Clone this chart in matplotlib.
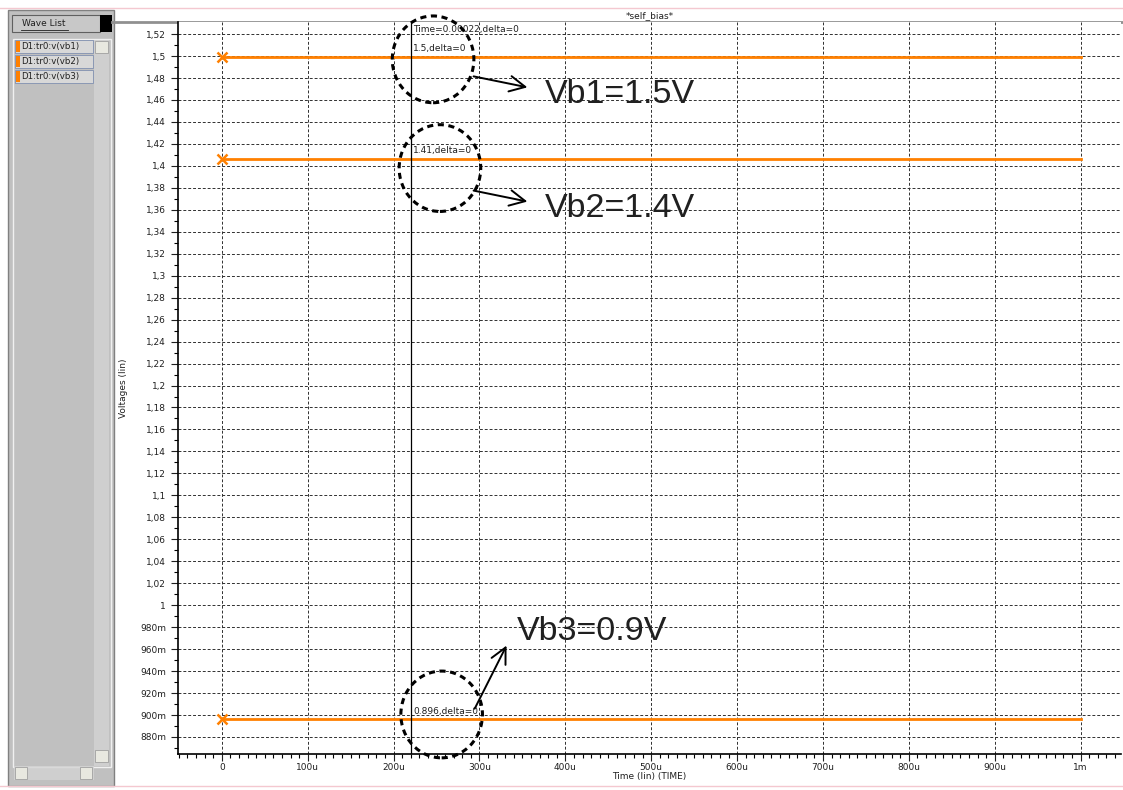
import matplotlib
matplotlib.use("Agg")
import matplotlib.pyplot as plt
from matplotlib.patches import Rectangle, Ellipse
import numpy as np

time_us = [0, 1000]
vb1 = [1.499, 1.499]
vb2 = [1.406, 1.406]
vb3 = [0.896, 0.896]
signals = ["D1:tr0:v(vb1)", "D1:tr0:v(vb2)", "D1:tr0:v(vb3)"]
cursor_us = 220
cursor_labels = ["1.5,delta=0", "1.41,delta=0", "0.896,delta=0"]
cursor_vals = [1.499, 1.406, 0.896]
notes = ["Vb1=1.5V", "Vb2=1.4V", "Vb3=0.9V"]

y_ticks = np.round(np.arange(0.88, 1.5201, 0.02), 2)
x_ticks = np.arange(0, 1001, 100)

def ylab(v):
    if v < 1:
        return "%dm" % round(v * 1000)
    s = ("%.2f" % v).rstrip("0").rstrip(".")
    return s.replace(".", ",")

def xlab(v):
    if v == 0:
        return "0"
    if v == 1000:
        return "1m"
    return "%du" % v

W, H = 1123, 790
orange = "#ff8000"
fig = plt.figure(figsize=(W / 100, H / 100), dpi=100)
fig.patch.set_facecolor("white")

# painel de fundo em coordenadas de pixel
bg = fig.add_axes([0, 0, 1, 1])
bg.set_xlim(0, W)
bg.set_ylim(H, 0)
bg.axis("off")
bg.plot([0, W], [8, 8], color="#f4c8d0", lw=1)
bg.plot([0, W], [786, 786], color="#f4c8d0", lw=1)
bg.plot([112, W], [22, 22], color="#909090", lw=2)
bg.add_patch(Rectangle((8, 10), 106, 776, facecolor="#c0c0c0", edgecolor="#808080", lw=1))
bg.add_patch(Rectangle((12, 15), 88, 17, facecolor="#c8c8c8", edgecolor="#606060", lw=0.8))
bg.add_patch(Rectangle((100, 15), 12, 17, facecolor="black"))
bg.text(44, 24, "Wave List", fontsize=6.5, ha="center", va="center", color="#202020")
bg.plot([21, 68], [29.5, 29.5], color="#202020", lw=0.6)
bg.add_patch(Rectangle((13, 39), 98, 728, facecolor="#c0c0c0", edgecolor="#f0f0f0", lw=1))
bg.add_patch(Rectangle((94, 40), 15, 726, facecolor="#d4d4d4", edgecolor="none", hatch="....", alpha=0.8))
bg.add_patch(Rectangle((95, 41), 13, 12, facecolor="#e8e8e0", edgecolor="#a0a0a0", lw=0.6))
bg.add_patch(Rectangle((95, 750), 13, 12, facecolor="#e8e8e0", edgecolor="#a0a0a0", lw=0.6))
bg.add_patch(Rectangle((14, 766), 80, 14, facecolor="#d4d4d4", edgecolor="none", hatch="....", alpha=0.8))
bg.add_patch(Rectangle((15, 767), 12, 12, facecolor="#e8e8e0", edgecolor="#a0a0a0", lw=0.6))
bg.add_patch(Rectangle((80, 767), 12, 12, facecolor="#e8e8e0", edgecolor="#a0a0a0", lw=0.6))
for i, name in enumerate(signals):
    y = 46 + 15 * i
    bg.add_patch(Rectangle((15, y - 6), 78, 13, facecolor="#d8d8d8", edgecolor="#8090b0", lw=0.6))
    bg.add_patch(Rectangle((16, y - 5), 4, 11, facecolor=orange, edgecolor="none"))
    bg.text(21, y + 0.5, name, fontsize=6.2, va="center", color="#202020")

# area do grafico
ax = fig.add_axes([178 / W, 1 - 754 / H, (1121 - 178) / W, (754 - 22) / H])
ax.set_xlim(-51, 1047)
ax.set_ylim(0.8645, 1.531)
for s in ["top", "right"]:
    ax.spines[s].set_visible(False)
ax.spines["left"].set_linewidth(1.2)
ax.spines["bottom"].set_linewidth(1.2)

ax.set_yticks(y_ticks)
ax.set_yticklabels([ylab(v) for v in y_ticks])
ax.set_yticks(np.round(np.arange(0.87, 1.53, 0.02), 2), minor=True)
ax.set_xticks(x_ticks)
ax.set_xticklabels([xlab(v) for v in x_ticks])
ax.set_xticks(np.arange(-50, 1041, 10), minor=True)
ax.tick_params(axis="both", which="major", labelsize=6.5, length=5, width=0.8, colors="#202020")
ax.tick_params(axis="both", which="minor", length=3, width=0.8)
ax.tick_params(axis="x", pad=1.5)
ax.grid(True, which="major", color="#303030", ls=(0, (3, 2)), lw=0.7)

for v in [vb1, vb2, vb3]:
    ax.plot(time_us, v, color=orange, lw=2, zorder=3)
    ax.plot(time_us[0], v[0], marker="x", color=orange, ms=7, mew=1.8, zorder=4)

ax.axvline(cursor_us, color="black", lw=0.9, zorder=4)
ax.text(cursor_us + 3, 1.528, "Time=0.00022,delta=0", fontsize=6.5, va="top", color="#202020")
for lab, val in zip(cursor_labels, cursor_vals):
    ax.text(cursor_us + 3, val + 0.0035, lab, fontsize=6.5, va="bottom", color="#202020", zorder=5)

ax.set_title("*self_bias*", fontsize=6.5, pad=3, x=0.5, color="#202020")
ax.set_xlabel("Time (lin) (TIME)", fontsize=6.5, labelpad=0, color="#202020")
ax.set_ylabel("Voltages (lin)", fontsize=6.5, labelpad=9, color="#202020")

# marcas desenhadas a mao sobre a tela
circles = [(246, 1.497), (254, 1.398), (256, 0.9005)]
for cx, cy in circles:
    ax.add_patch(Ellipse((cx, cy), 95, 0.079, fill=False, ec="black", lw=2.2,
                         ls=(0, (2, 1.5)), zorder=6, clip_on=False))

arrows = [((290, 1.482), (359, 1.471)), ((290, 1.378), (359, 1.367)),
          ((293, 0.9035), (333, 0.9655))]
for (x0, y0), (x1, y1) in arrows:
    ax.annotate("", xy=(x1, y1), xytext=(x0, y0),
                arrowprops=dict(arrowstyle="->", color="black", lw=1.4,
                                mutation_scale=28), zorder=6)

note_pos = [(376, 1.465), (376, 1.361), (344, 0.976)]
for txt, (nx, ny) in zip(notes, note_pos):
    ax.text(nx, ny, txt, fontsize=24.5, family="Liberation Sans", va="center",
            color="#202020", zorder=6)

fig.savefig("out.png", dpi=100)
